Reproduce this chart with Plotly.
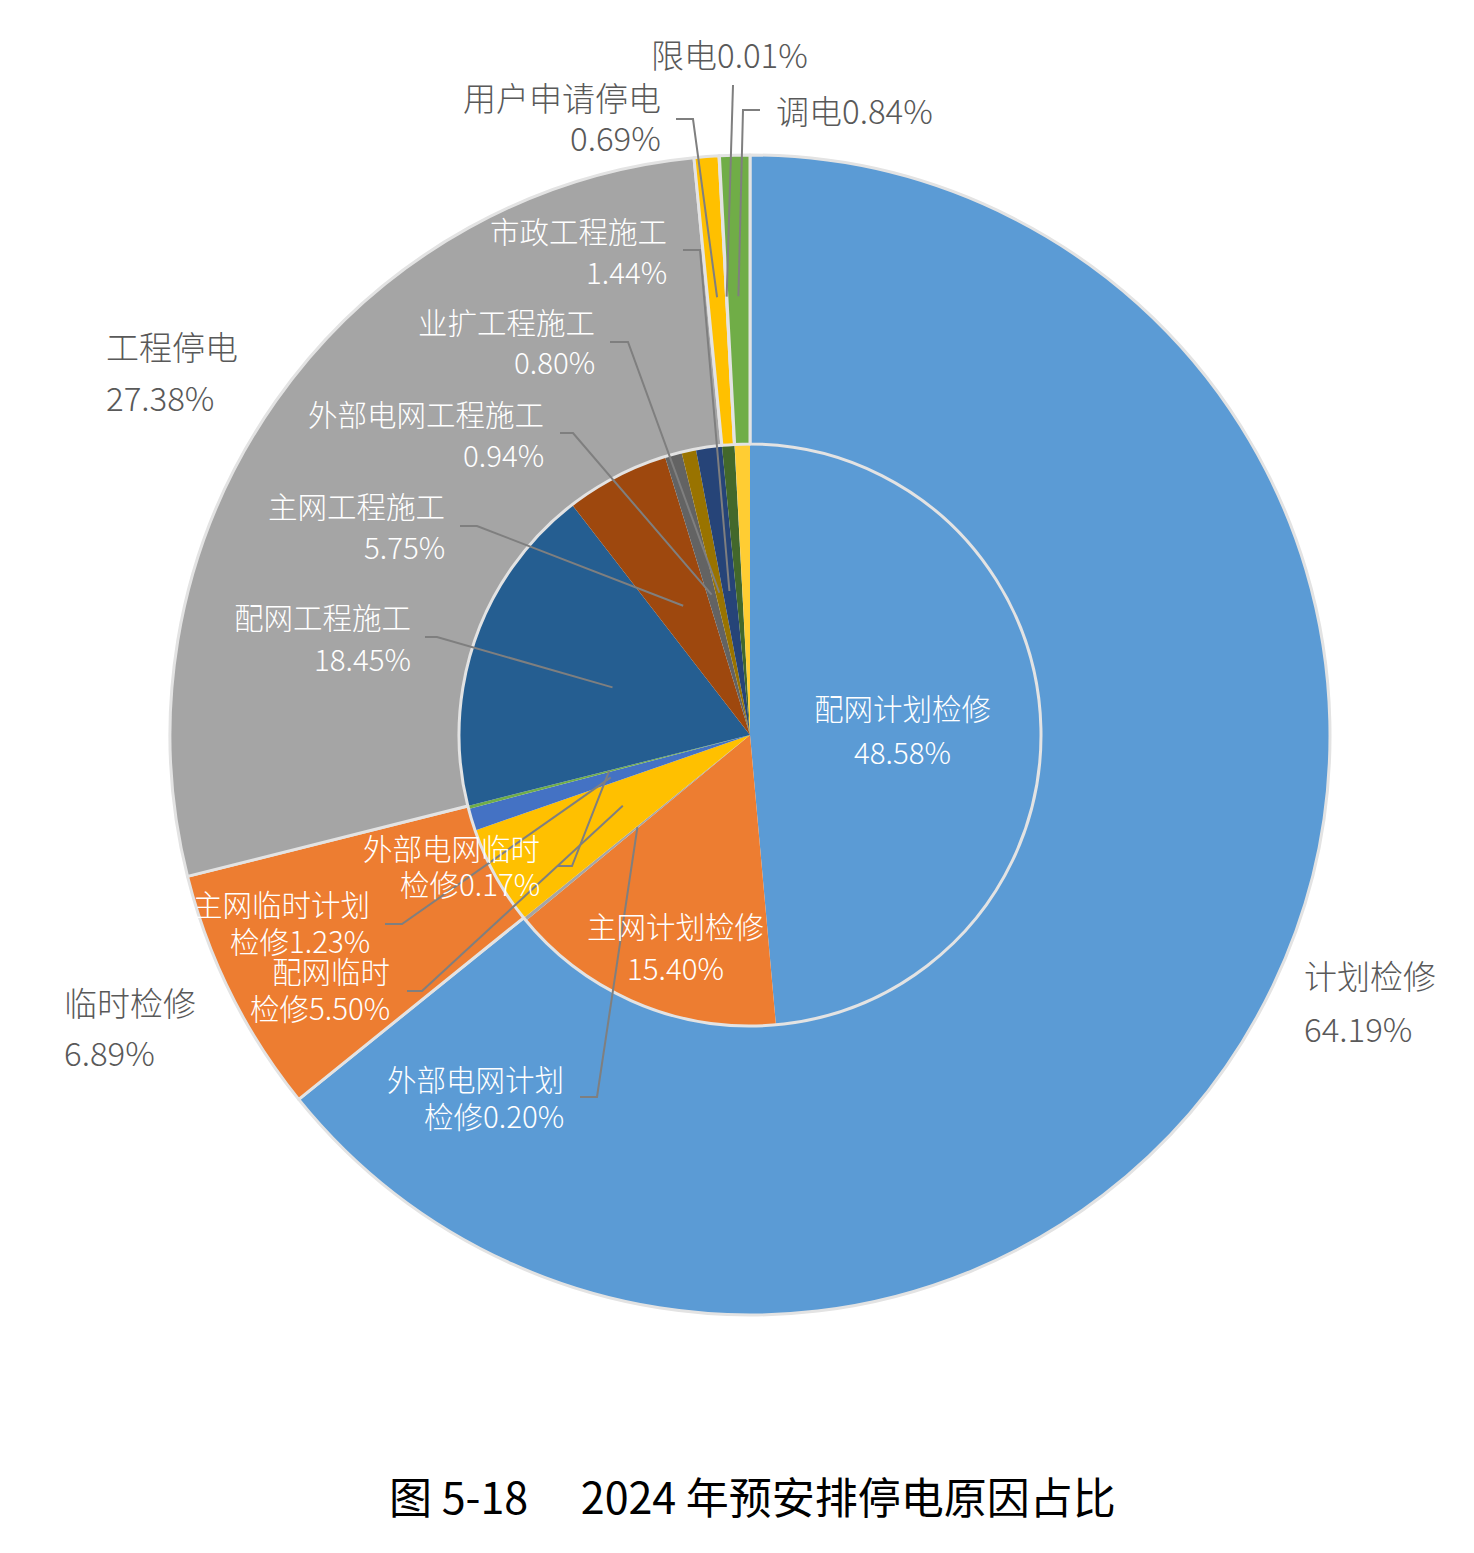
import math
import plotly.graph_objects as go

# ---------------- data ----------------
outer_labels = ["计划检修", "临时检修", "工程停电", "用户申请停电", "限电", "调电"]
outer_values = [64.19, 6.89, 27.38, 0.69, 0.01, 0.84]

inner_labels = ["配网计划检修", "主网计划检修", "外部电网计划检修", "配网临时检修",
                "主网临时计划检修", "外部电网临时检修", "配网工程施工", "主网工程施工",
                "外部电网工程施工", "业扩工程施工", "市政工程施工",
                "用户申请停电", "限电", "调电"]
inner_values = [48.58, 15.40, 0.20, 5.50, 1.23, 0.17, 18.45, 5.75, 0.94, 0.80, 1.44,
                0.69, 0.01, 0.84]

title_text = "图 5-18\u3000\u00a02024 年预安排停电原因占比"

# ---------------- styles / layout ----------------
outer_colors = ["#5B9BD5", "#ED7D31", "#A5A5A5", "#FFC000", "#4472C4", "#70AD47"]
inner_colors = ["#5B9BD5", "#ED7D31", "#A5A5A5", "#FFC000", "#4472C4", "#70AD47",
                "#255E91", "#9E480E", "#636363", "#997300", "#264478", "#43682B",
                "#7CAFDD", "#FFCD33"]

W, H = 1474, 1553
CX, CY = 750, 735
R_OUT, R_IN = 580, 291
FONT = "Noto Sans CJK SC"
OUT_COLOR = "#595959"
LEADER_COLOR = "#7F7F7F"

# label placement: split (None -> name / pct ; "one" -> name+pct ; k -> name[:k] / name[k:]+pct)
# x, line y centres, anchor, elbow points (label side) for leader lines
outer_cfg = {
    "计划检修": dict(split=None, x=1302, ys=[975, 1028], anchor="left", elbow=None),
    "临时检修": dict(split=None, x=62, ys=[1002, 1052], anchor="left", elbow=None),
    "工程停电": dict(split=None, x=104, ys=[346, 397], anchor="left", elbow=None),
    "用户申请停电": dict(split=None, x=663, ys=[97, 137], anchor="right",
                     elbow=[(676, 119), (693, 119)]),
    "限电": dict(split="one", x=649, ys=[54], anchor="left", elbow=[(733, 85)]),
    "调电": dict(split="one", x=774, ys=[110], anchor="left",
               elbow=[(760, 110), (743, 110)]),
}
inner_cfg = {
    "配网计划检修": dict(split=None, x=902, ys=[707, 751], anchor="center", elbow=None),
    "主网计划检修": dict(split=None, x=675, ys=[925, 967], anchor="center", elbow=None),
    "外部电网计划检修": dict(split=6, x=566, ys=[1078, 1115], anchor="right",
                         elbow=[(580, 1097), (597, 1097)]),
    "配网临时检修": dict(split=4, x=392, ys=[970, 1007], anchor="right",
                       elbow=[(407, 991), (422, 991)]),
    "主网临时计划检修": dict(split=6, x=372, ys=[903, 940], anchor="right",
                         elbow=[(385, 924), (402, 924)]),
    "外部电网临时检修": dict(split=6, x=542, ys=[847, 883], anchor="right",
                         elbow=[(557, 866), (572, 866)]),
    "配网工程施工": dict(split=None, x=413, ys=[616, 658], anchor="right",
                       elbow=[(425, 637), (437, 637)]),
    "主网工程施工": dict(split=None, x=447, ys=[505, 546], anchor="right",
                       elbow=[(460, 526), (477, 526)]),
    "外部电网工程施工": dict(split=None, x=546, ys=[413, 454], anchor="right",
                         elbow=[(560, 433), (573, 433)]),
    "业扩工程施工": dict(split=None, x=597, ys=[321, 361], anchor="right",
                       elbow=[(610, 342), (628, 342)]),
    "市政工程施工": dict(split=None, x=669, ys=[230, 271], anchor="right",
                       elbow=[(683, 250), (700, 250)]),
}


def px(x, y):
    return x / W, 1 - y / H


def mid_angle(values, i):
    tot = sum(values)
    cum = sum(values[:i]) + values[i] / 2
    return 2 * math.pi * cum / tot


def polar(ang, r):
    return CX + r * math.sin(ang), CY - r * math.cos(ang)


def lines_for(name, val, split):
    pct = f"{val:.2f}%"
    if split is None:
        return [name, pct]
    if split == "one":
        return [name + pct]
    return [name[:split], name[split:] + pct]


fig = go.Figure()

fig.add_trace(go.Pie(
    values=inner_values, labels=inner_labels, sort=False, direction="clockwise",
    rotation=0,
    domain=dict(x=[(CX - R_IN) / W, (CX + R_IN) / W],
                y=[(H - CY - R_IN) / H, (H - CY + R_IN) / H]),
    marker=dict(colors=inner_colors, line=dict(width=0)),
    textinfo="none", showlegend=False, hoverinfo="label+percent",
))
fig.add_trace(go.Pie(
    values=outer_values, labels=outer_labels, sort=False, direction="clockwise",
    rotation=0, hole=R_IN / R_OUT,
    domain=dict(x=[(CX - R_OUT) / W, (CX + R_OUT) / W],
                y=[(H - CY - R_OUT) / H, (H - CY + R_OUT) / H]),
    marker=dict(colors=outer_colors, line=dict(width=3, color="#E3E3E3")),
    textinfo="none", showlegend=False, hoverinfo="label+percent",
))

annotations = []
shapes = []


def add_labels(labels, values, cfg, color, size, r_end):
    for i, (name, val) in enumerate(zip(labels, values)):
        if name not in cfg:
            continue
        c = cfg[name]
        for txt, y in zip(lines_for(name, val, c["split"]), c["ys"]):
            x0, y0 = px(c["x"], y)
            annotations.append(dict(
                text=txt, x=x0, y=y0, xref="paper", yref="paper",
                xanchor=c["anchor"], yanchor="middle", showarrow=False,
                font=dict(family=FONT, size=size, color=color, weight=300)))
        if c["elbow"]:
            ex, ey = polar(mid_angle(values, i), r_end)
            pts = [px(*p) for p in c["elbow"]] + [px(ex, ey)]
            path = "M " + " L ".join(f"{a:.5f},{b:.5f}" for a, b in pts)
            shapes.append(dict(type="path", path=path, xref="paper", yref="paper",
                               line=dict(color=LEADER_COLOR, width=2)))


add_labels(inner_labels, inner_values, inner_cfg, "white", 29.5, R_IN * 0.5)
add_labels(outer_labels, outer_values, outer_cfg, OUT_COLOR, 33, 439)

tx, ty = px(752, 1495)
annotations.append(dict(text=title_text, x=tx, y=ty, xref="paper", yref="paper",
                        xanchor="center", yanchor="middle", showarrow=False,
                        font=dict(family=FONT, size=43, color="black")))

fig.update_layout(
    width=W, height=H, margin=dict(l=0, r=0, t=0, b=0),
    paper_bgcolor="white", plot_bgcolor="white",
    annotations=annotations, shapes=shapes, showlegend=False,
)

fig.write_html("out.html")
